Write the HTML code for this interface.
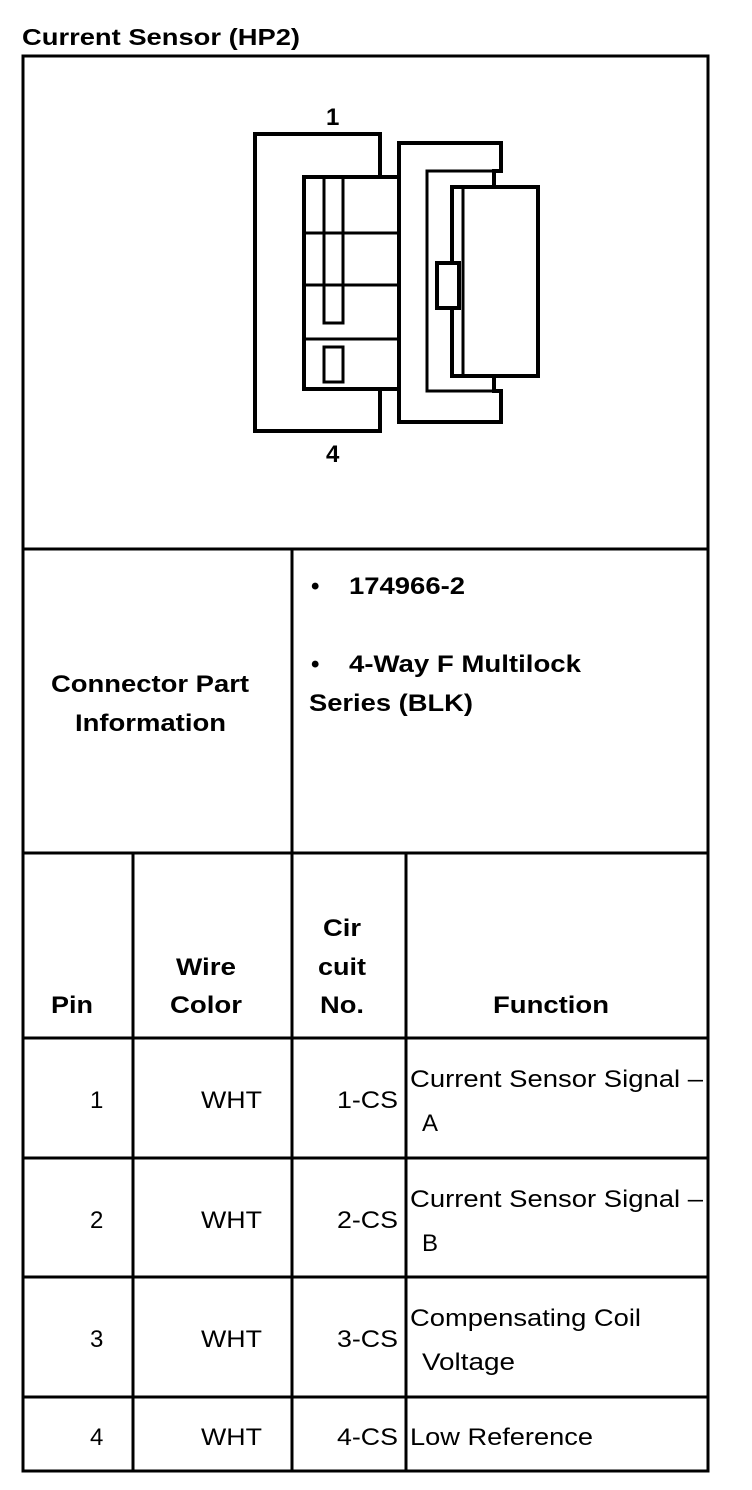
<!DOCTYPE html>
<html><head><meta charset="utf-8"><style>
html,body{margin:0;padding:0;background:#fff;}
svg{display:block;}
text{font-family:"Liberation Sans",Arial,sans-serif;fill:#000;}
.b{font-weight:bold;}
</style></head><body>
<svg width="752" height="1490" viewBox="0 0 752 1490" xmlns="http://www.w3.org/2000/svg">
<text x="22" y="45" class="b" font-size="23" textLength="278" lengthAdjust="spacingAndGlyphs">Current Sensor (HP2)</text>
<g stroke="#000" stroke-width="3" fill="none">
<rect x="23" y="56" width="685" height="1415"/>
<line x1="22" y1="549" x2="709" y2="549"/>
<line x1="22" y1="853" x2="709" y2="853"/>
<line x1="22" y1="1038" x2="709" y2="1038"/>
<line x1="22" y1="1158" x2="709" y2="1158"/>
<line x1="22" y1="1277" x2="709" y2="1277"/>
<line x1="22" y1="1397" x2="709" y2="1397"/>
<line x1="292" y1="549" x2="292" y2="1471"/>
<line x1="133" y1="853" x2="133" y2="1471"/>
<line x1="406" y1="853" x2="406" y2="1471"/>
<polyline points="380,177 380,134 255,134 255,431 380,431 380,389" stroke-width="4"/>
<rect x="304" y="177" width="95" height="212" stroke-width="4"/>
<line x1="380" y1="177" x2="399" y2="177" stroke-width="4"/>
<line x1="304" y1="233" x2="399" y2="233"/>
<line x1="304" y1="285" x2="399" y2="285"/>
<line x1="304" y1="339" x2="399" y2="339"/>
<rect x="324" y="177" width="19" height="146" stroke-width="3"/>
<rect x="324" y="347" width="19" height="35" stroke-width="3"/>
<polyline points="399,177 399,143 501,143 501,171 494,171 494,187" stroke-width="4"/>
<polyline points="399,389 399,422 501,422 501,391 494,391 494,376" stroke-width="4"/>
<polyline points="494,171 427,171 427,391 494,391" stroke-width="3"/>
<rect x="452" y="187" width="86" height="189" stroke-width="4"/>
<line x1="463" y1="187" x2="463" y2="376"/>
<rect x="437" y="263" width="22" height="45" fill="#fff" stroke-width="4"/>
</g>
<text x="326" y="125" class="b" font-size="24">1</text>
<text x="326" y="462" class="b" font-size="24">4</text>

<text x="51" y="692" class="b" font-size="24" textLength="198" lengthAdjust="spacingAndGlyphs">Connector Part</text>
<text x="75" y="731" class="b" font-size="24" textLength="151" lengthAdjust="spacingAndGlyphs">Information</text>
<text x="311" y="594" class="b" font-size="24">•</text>
<text x="349" y="594" class="b" font-size="24" textLength="116" lengthAdjust="spacingAndGlyphs">174966-2</text>
<text x="311" y="672" class="b" font-size="24">•</text>
<text x="349" y="672" class="b" font-size="24" textLength="232" lengthAdjust="spacingAndGlyphs">4-Way F Multilock</text>
<text x="309" y="711" class="b" font-size="24" textLength="164" lengthAdjust="spacingAndGlyphs">Series (BLK)</text>

<text x="51" y="1013" class="b" font-size="24" textLength="42" lengthAdjust="spacingAndGlyphs">Pin</text>
<text x="176" y="975" class="b" font-size="24" textLength="60" lengthAdjust="spacingAndGlyphs">Wire</text>
<text x="170" y="1013" class="b" font-size="24" textLength="72" lengthAdjust="spacingAndGlyphs">Color</text>
<text x="323" y="936" class="b" font-size="24" textLength="38" lengthAdjust="spacingAndGlyphs">Cir</text>
<text x="318" y="975" class="b" font-size="24" textLength="48" lengthAdjust="spacingAndGlyphs">cuit</text>
<text x="320" y="1013" class="b" font-size="24" textLength="44" lengthAdjust="spacingAndGlyphs">No.</text>
<text x="493" y="1013" class="b" font-size="24" textLength="116" lengthAdjust="spacingAndGlyphs">Function</text>

<g font-size="24">
<text x="90" y="1108">1</text>
<text x="201" y="1108" textLength="61" lengthAdjust="spacingAndGlyphs">WHT</text>
<text x="337" y="1108" textLength="61" lengthAdjust="spacingAndGlyphs">1-CS</text>
<text x="410" y="1087" textLength="293" lengthAdjust="spacingAndGlyphs">Current Sensor Signal –</text>
<text x="422" y="1131">A</text>

<text x="90" y="1228">2</text>
<text x="201" y="1228" textLength="61" lengthAdjust="spacingAndGlyphs">WHT</text>
<text x="337" y="1228" textLength="61" lengthAdjust="spacingAndGlyphs">2-CS</text>
<text x="410" y="1207" textLength="293" lengthAdjust="spacingAndGlyphs">Current Sensor Signal –</text>
<text x="422" y="1251">B</text>

<text x="90" y="1347">3</text>
<text x="201" y="1347" textLength="61" lengthAdjust="spacingAndGlyphs">WHT</text>
<text x="337" y="1347" textLength="61" lengthAdjust="spacingAndGlyphs">3-CS</text>
<text x="410" y="1326" textLength="231" lengthAdjust="spacingAndGlyphs">Compensating Coil</text>
<text x="422" y="1370" textLength="93" lengthAdjust="spacingAndGlyphs">Voltage</text>

<text x="90" y="1445">4</text>
<text x="201" y="1445" textLength="61" lengthAdjust="spacingAndGlyphs">WHT</text>
<text x="337" y="1445" textLength="61" lengthAdjust="spacingAndGlyphs">4-CS</text>
<text x="410" y="1445" textLength="183" lengthAdjust="spacingAndGlyphs">Low Reference</text>
</g>
</svg>
</body></html>
